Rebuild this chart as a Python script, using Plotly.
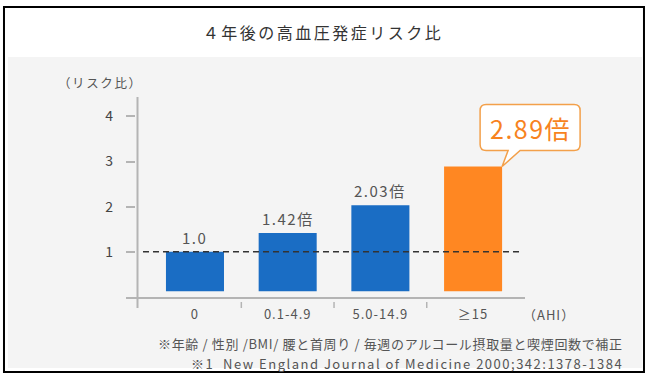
import plotly.graph_objects as go

# ---- data ----
categories = ["0", "0.1-4.9", "5.0-14.9", "≥15"]
risk_ratio = [1.0, 1.42, 2.03, 2.89]
value_labels = ["1.0", "1.42倍", "2.03倍", "2.89倍"]
y_ticks = [1, 2, 3, 4]
title_text = "４年後の高血圧発症リスク比"
y_title = "（リスク比）"
x_unit = "（AHI）"
note1 = "※年齢 / 性別 /BMI/ 腰と首周り / 毎週のアルコール摂取量と喫煙回数で補正"
note2 = "※1  New England Journal of Medicine 2000;342:1378-1384"

# ---- style ----
FONT = "Noto Sans CJK JP"
BAR_BASE = 0.13
BAR_W = 0.626
X_RANGE = [-0.744, 3.56]
Y_RANGE = [0, 4.43]
BLUE = "#1a6dc4"
ORANGE = "#ff8722"
AXIS_COL = "#b4b4b4"
TXT = "#555555"


def spaced(t, px):
    return f'<span style="letter-spacing:{px}px">{t}</span>'


x_idx = list(range(len(categories)))
bar_colors = [BLUE] * (len(categories) - 1) + [ORANGE]

fig = go.Figure()
fig.add_trace(go.Bar(
    x=x_idx,
    y=[v - BAR_BASE for v in risk_ratio],
    base=BAR_BASE,
    width=BAR_W,
    marker=dict(color=bar_colors, line=dict(width=0)),
    hoverinfo="skip",
))

shapes = []
# outer frame + grey panel
shapes.append(dict(type="rect", xref="paper", yref="paper",
                   x0=-0.2957, x1=1.2932, y0=-0.355, y1=1.2,
                   fillcolor="#f4f4f4", line=dict(width=0), layer="below"))
shapes.append(dict(type="rect", xref="paper", yref="paper",
                   x0=-0.3058, x1=1.2982, y0=-0.375, y1=1.45,
                   fillcolor="rgba(0,0,0,0)", line=dict(color="#000", width=2), layer="below"))
# y axis line
shapes.append(dict(type="line", xref="paper", yref="paper",
                   x0=0.0288, x1=0.0288, y0=-0.055, y1=1.0,
                   line=dict(color=AXIS_COL, width=2)))
# category separators
for i in range(len(categories) - 1):
    shapes.append(dict(type="line", xref="x", yref="paper",
                       x0=i + 0.5, x1=i + 0.5, y0=-0.025, y1=-0.055,
                       line=dict(color=AXIS_COL, width=1.5)))
# reference dashed line at ratio 1
shapes.append(dict(type="line", xref="paper", yref="y",
                   x0=0.0426, x1=0.99, y0=1, y1=1,
                   line=dict(color="#333", width=1.5, dash="6px,4px")))
# callout bubble anchored to top-right corner of last bar
last = len(categories) - 1
corner_paper = (last + BAR_W / 2 - X_RANGE[0]) / (X_RANGE[1] - X_RANGE[0])
shapes.append(dict(
    type="path", xref="paper", yref="y",
    xsizemode="pixel", ysizemode="pixel",
    xanchor=corner_paper, yanchor=risk_ratio[last],
    path="M 0 0 L 18 16 L 72 16 Q 78 16 78 22 L 78 56 Q 78 62 72 62 "
         "L -16 62 Q -22 62 -22 56 L -22 22 Q -22 16 -16 16 L 6 16 Z",
    fillcolor="white", line=dict(color="#f3a04a", width=1.5)))

annotations = []
for i in range(len(categories) - 1):
    annotations.append(dict(x=i, y=risk_ratio[i], xref="x", yref="y",
                            text=spaced(value_labels[i], 1.5), showarrow=False,
                            xanchor="center", yanchor="bottom", yshift=2,
                            font=dict(family=FONT, size=15, color=TXT)))
annotations.append(dict(x=corner_paper, y=risk_ratio[last], xref="paper", yref="y",
                        text=spaced(value_labels[last], 1.5), showarrow=False,
                        xanchor="center", yanchor="middle",
                        xshift=28, yshift=39,
                        font=dict(family=FONT, size=25, color="#f7831e")))
annotations.append(dict(x=-0.0627, y=1.075, xref="paper", yref="paper",
                        text=spaced(y_title, 1.6), showarrow=False,
                        xanchor="center", yanchor="middle",
                        font=dict(family=FONT, size=12.5, color=TXT)))
annotations.append(dict(x=1.06, y=-0.085, xref="paper", yref="paper",
                        text=spaced(x_unit, 1), showarrow=False,
                        xanchor="center", yanchor="middle",
                        font=dict(family=FONT, size=13, color=TXT)))
annotations.append(dict(x=1.2506, y=-0.23, xref="paper", yref="paper",
                        text=spaced(note1, 0.65), showarrow=False,
                        xanchor="right", yanchor="middle",
                        font=dict(family=FONT, size=13, color=TXT)))
annotations.append(dict(x=1.2506, y=-0.33, xref="paper", yref="paper",
                        text=spaced(note2, 1.5), showarrow=False,
                        xanchor="right", yanchor="middle",
                        font=dict(family=FONT, size=13, color=TXT)))

fig.update_layout(
    width=650, height=380,
    margin=dict(l=126, r=125, t=97, b=83),
    paper_bgcolor="white",
    plot_bgcolor="rgba(0,0,0,0)",
    showlegend=False,
    title=dict(text=spaced(title_text, 2.5), x=323 / 650, xanchor="center",
               y=1 - 33 / 380, yanchor="middle", xref="container", yref="container",
               font=dict(family=FONT, size=16, color="#333")),
    xaxis=dict(range=X_RANGE, tickvals=x_idx,
               ticktext=[spaced(c, 1) for c in categories],
               showline=True, linecolor=AXIS_COL, linewidth=2,
               showgrid=False, zeroline=False, ticks="", ticklabelstandoff=4,
               tickfont=dict(family=FONT, size=13, color=TXT)),
    yaxis=dict(range=Y_RANGE, tickvals=y_ticks, showline=False,
               showgrid=False, zeroline=False, ticks="inside", ticklen=9,
               tickcolor=AXIS_COL, tickwidth=1.5, ticklabelstandoff=12,
               tickfont=dict(family=FONT, size=14, color="#444")),
    shapes=shapes,
    annotations=annotations,
    bargap=0.3,
)

fig.write_html("out.html", config={"displayModeBar": False},
               post_script="document.body.style.margin='0';")
